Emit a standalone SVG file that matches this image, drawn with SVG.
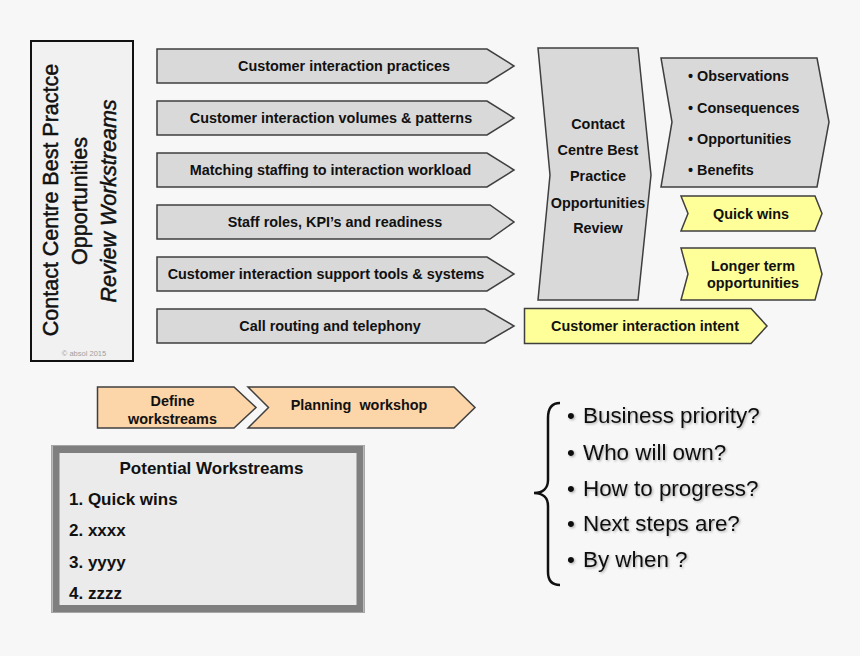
<svg xmlns="http://www.w3.org/2000/svg" width="860" height="656" viewBox="0 0 860 656">
<defs>
<filter id="sh" x="-10%" y="-30%" width="120%" height="160%">
<feDropShadow dx="1.2" dy="1.2" stdDeviation="0.8" flood-color="#000" flood-opacity="0.3"/>
</filter>
</defs>
<style>
.bg{fill:#f7f7f7}
.g{fill:#d9d9d9;stroke:#3f3f3f;stroke-width:1.5}
.y{fill:#ffff99;stroke:#3f3f3f;stroke-width:1.5}
.p{fill:#fcd5a8;stroke:#3f3f3f;stroke-width:1.5}
.t{font-family:"Liberation Sans",Arial,sans-serif;font-weight:bold;font-size:14.4px;fill:#111}
.c{text-anchor:middle}
.v{font-family:"Liberation Sans",Arial,sans-serif;font-size:21.5px;fill:#111;stroke:#111;stroke-width:0.5;text-anchor:middle}
.w{font-family:"Liberation Sans",Arial,sans-serif;font-weight:bold;font-size:17px;fill:#111}
.q{font-family:"Liberation Sans",Arial,sans-serif;font-size:22.4px;fill:#111}
</style>
<rect class="bg" x="0" y="0" width="860" height="656"/>

<g id="title-box">
<rect x="31" y="41" width="102" height="320" fill="#f1f1f1" stroke="#111" stroke-width="2"/>
<text class="v" transform="translate(57.5,200) rotate(-90)">Contact Centre Best Practce</text>
<text class="v" transform="translate(86.5,201) rotate(-90)">Opportunities</text>
<text class="v" font-style="italic" transform="translate(115.5,201) rotate(-90)">Review Workstreams</text>
<text x="84" y="356" font-family="'Liberation Sans',Arial,sans-serif" font-size="7.5" fill="#a0a0a0" text-anchor="middle">© absol 2015</text>
</g>

<g id="ws1">
<polygon class="g" points="157,49 487,49 514,66 487,83 157,83"/>
<text class="t c" x="344" y="71">Customer interaction practices</text>
</g>
<g id="ws2">
<polygon class="g" points="157,101 487,101 514,118 487,135 157,135"/>
<text class="t c" x="331" y="123">Customer interaction volumes &amp; patterns</text>
</g>
<g id="ws3">
<polygon class="g" points="157,153 487,153 514,170 487,187 157,187"/>
<text class="t c" x="330.5" y="175">Matching staffing to interaction workload</text>
</g>
<g id="ws4">
<polygon class="g" points="157,205 490,205 514,222 490,239 157,239"/>
<text class="t c" x="335" y="227">Staff roles, KPI’s and readiness</text>
</g>
<g id="ws5">
<polygon class="g" points="157,257 487,257 514,274 487,291 157,291"/>
<text class="t c" x="326" y="279">Customer interaction support tools &amp; systems</text>
</g>
<g id="ws6">
<polygon class="g" points="157,309 485,309 514,326 485,343 157,343"/>
<text class="t c" x="330" y="331">Call routing and telephony</text>
</g>

<g id="review">
<polygon class="g" points="538,48 638,48 651,175 638,300 538,300 550,175"/>
<text class="t c" x="598" y="129">Contact</text>
<text class="t c" x="598" y="155">Centre Best</text>
<text class="t c" x="598" y="181">Practice</text>
<text class="t c" x="598" y="207.5">Opportunities</text>
<text class="t c" x="598" y="233">Review</text>
</g>

<g id="outputs">
<polygon class="g" points="661,58 817,58 829,122 817,187 661,187 672,122"/>
<text class="t" x="688" y="81">• Observations</text>
<text class="t" x="688" y="112.5">• Consequences</text>
<text class="t" x="688" y="144">• Opportunities</text>
<text class="t" x="688" y="175">• Benefits</text>
</g>

<g id="quick-wins">
<polygon class="y" points="681,196 815,196 822,213.5 815,231 681,231 688,213.5"/>
<text class="t c" x="751" y="218.5">Quick wins</text>
</g>

<g id="longer-term">
<polygon class="y" points="681,248 815,248 822,274 815,300 681,300 688,274"/>
<text class="t c" x="753" y="271">Longer term</text>
<text class="t c" x="753" y="288">opportunities</text>
</g>

<g id="intent">
<polygon class="y" points="524.5,308.5 751,308.5 767,326 751,343.5 524.5,343.5"/>
<text class="t c" x="645" y="331">Customer interaction intent</text>
</g>

<g id="define">
<polygon class="p" points="97.5,387 234,387 256,407.5 234,428 97.5,428"/>
<text class="t c" x="172.5" y="405.5">Define</text>
<text class="t c" x="172.5" y="424">workstreams</text>
</g>

<g id="planning">
<polygon class="p" points="248,387 454,387 475,407.5 454,428 248,428 268.5,407.5"/>
<text class="t c" x="359" y="410" xml:space="preserve">Planning  workshop</text>
</g>

<g id="potential">
<rect x="51.5" y="445.5" width="313" height="167" fill="none" stroke="#a6a6a6" stroke-width="1"/>
<rect x="56" y="449.5" width="304" height="159" fill="#ebebeb" stroke="#7f7f7f" stroke-width="7"/>
<text class="w c" x="211.5" y="473.5">Potential Workstreams</text>
<text class="w" x="69" y="505">1. Quick wins</text>
<text class="w" x="69" y="536">2. xxxx</text>
<text class="w" x="69" y="567.5">3. yyyy</text>
<text class="w" x="69" y="599">4. zzzz</text>
</g>

<g id="questions">
<path d="M560,403 C552,403 548,408 548,418 L548,480 C548,488 543,493 534,493 C543,493 548,498 548,506 L548,572 C548,580 552,585 560,585" fill="none" stroke="#111" stroke-width="2.5"/>
<g filter="url(#sh)">
<text class="q" x="567" y="423">•</text>
<text class="q" x="583" y="423">Business priority?</text>
<text class="q" x="567" y="459.5">•</text>
<text class="q" x="583" y="459.5">Who will own?</text>
<text class="q" x="567" y="495.5">•</text>
<text class="q" x="583" y="495.5">How to progress?</text>
<text class="q" x="567" y="531">•</text>
<text class="q" x="583" y="531">Next steps are?</text>
<text class="q" x="567" y="567">•</text>
<text class="q" x="583" y="567">By when ?</text>
</g>
</g>

<g id="connectors"/>
</svg>
